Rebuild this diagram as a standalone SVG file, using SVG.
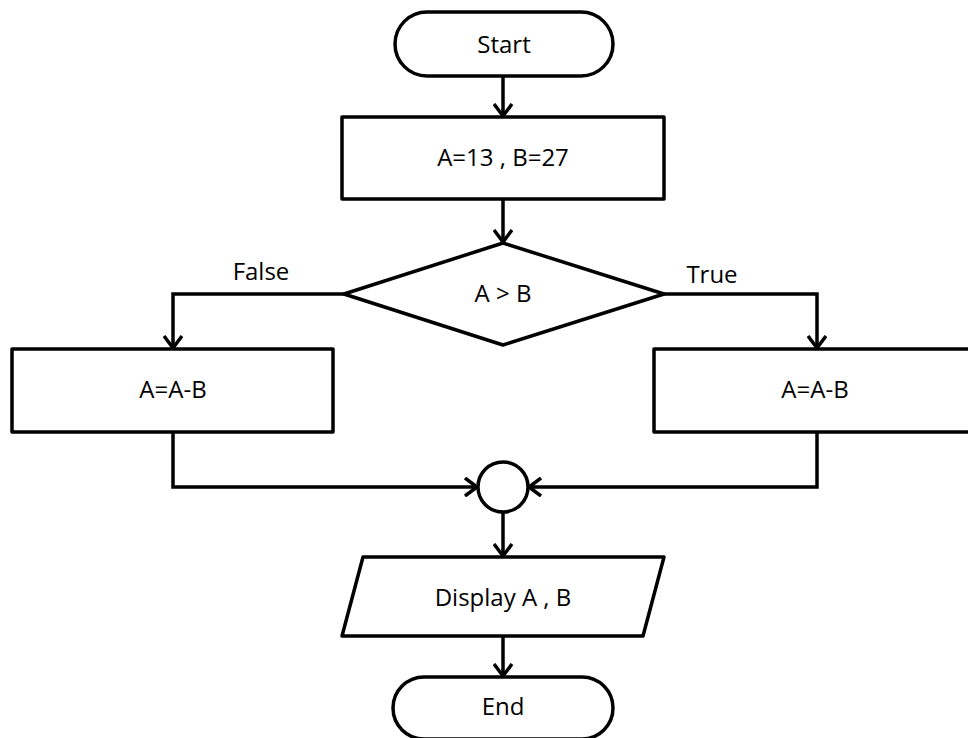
<svg xmlns="http://www.w3.org/2000/svg" width="968" height="738" viewBox="0 0 968 738">
<style>
.s{fill:#fff;stroke:#000;stroke-width:3.5;stroke-linejoin:round}
.c{fill:none;stroke:#000;stroke-width:3.5}
text{font-family:"Open Sans","Noto Sans",sans-serif;font-size:24px;fill:#000;text-anchor:middle;dominant-baseline:central}
</style>
<defs>
<marker id="ar" viewBox="0 0 14 20" refX="13" refY="10" markerWidth="14" markerHeight="20" markerUnits="userSpaceOnUse" orient="auto">
<path d="M1,1 L13,10 L1,19" fill="none" stroke="#000" stroke-width="3.5"/>
</marker>
</defs>
<rect width="968" height="738" fill="#fff"/>
<g id="connectors">
<line class="c" x1="503" y1="76" x2="503" y2="116" marker-end="url(#ar)"/>
<line class="c" x1="503" y1="199" x2="503" y2="242" marker-end="url(#ar)"/>
<polyline class="c" points="344,294 173,294 173,348" marker-end="url(#ar)"/>
<polyline class="c" points="664,294 817,294 817,348" marker-end="url(#ar)"/>
<polyline class="c" points="173,432 173,487 477,487" marker-end="url(#ar)"/>
<polyline class="c" points="817,432 817,487 529,487" marker-end="url(#ar)"/>
<line class="c" x1="503" y1="512" x2="503" y2="556" marker-end="url(#ar)"/>
<line class="c" x1="503" y1="636" x2="503" y2="676" marker-end="url(#ar)"/>
<text x="261" y="270">False</text>
<text x="712" y="273">True</text>
</g>
<g id="start">
<rect class="s" x="395" y="12" width="218" height="64" rx="32"/>
<text x="504" y="43">Start</text>
</g>
<g id="init">
<rect class="s" x="342" y="117" width="322" height="82"/>
<text x="503" y="156">A=13 , B=27</text>
</g>
<g id="decision">
<polygon class="s" points="503,243 664,294 503,345 344,294"/>
<text x="503" y="292">A &gt; B</text>
</g>
<g id="false-box">
<rect class="s" x="12" y="349" width="321" height="83"/>
<text x="173" y="388">A=A-B</text>
</g>
<g id="true-box">
<rect class="s" x="654" y="349" width="326" height="83"/>
<text x="815" y="388">A=A-B</text>
</g>
<g id="join">
<circle class="s" cx="503" cy="487" r="25"/>
</g>
<g id="display">
<polygon class="s" points="363,557 664,557 643,636 342,636"/>
<text x="503" y="596">Display A , B</text>
</g>
<g id="end">
<rect class="s" x="393" y="677" width="220" height="62" rx="31"/>
<text x="503" y="705">End</text>
</g>
</svg>
